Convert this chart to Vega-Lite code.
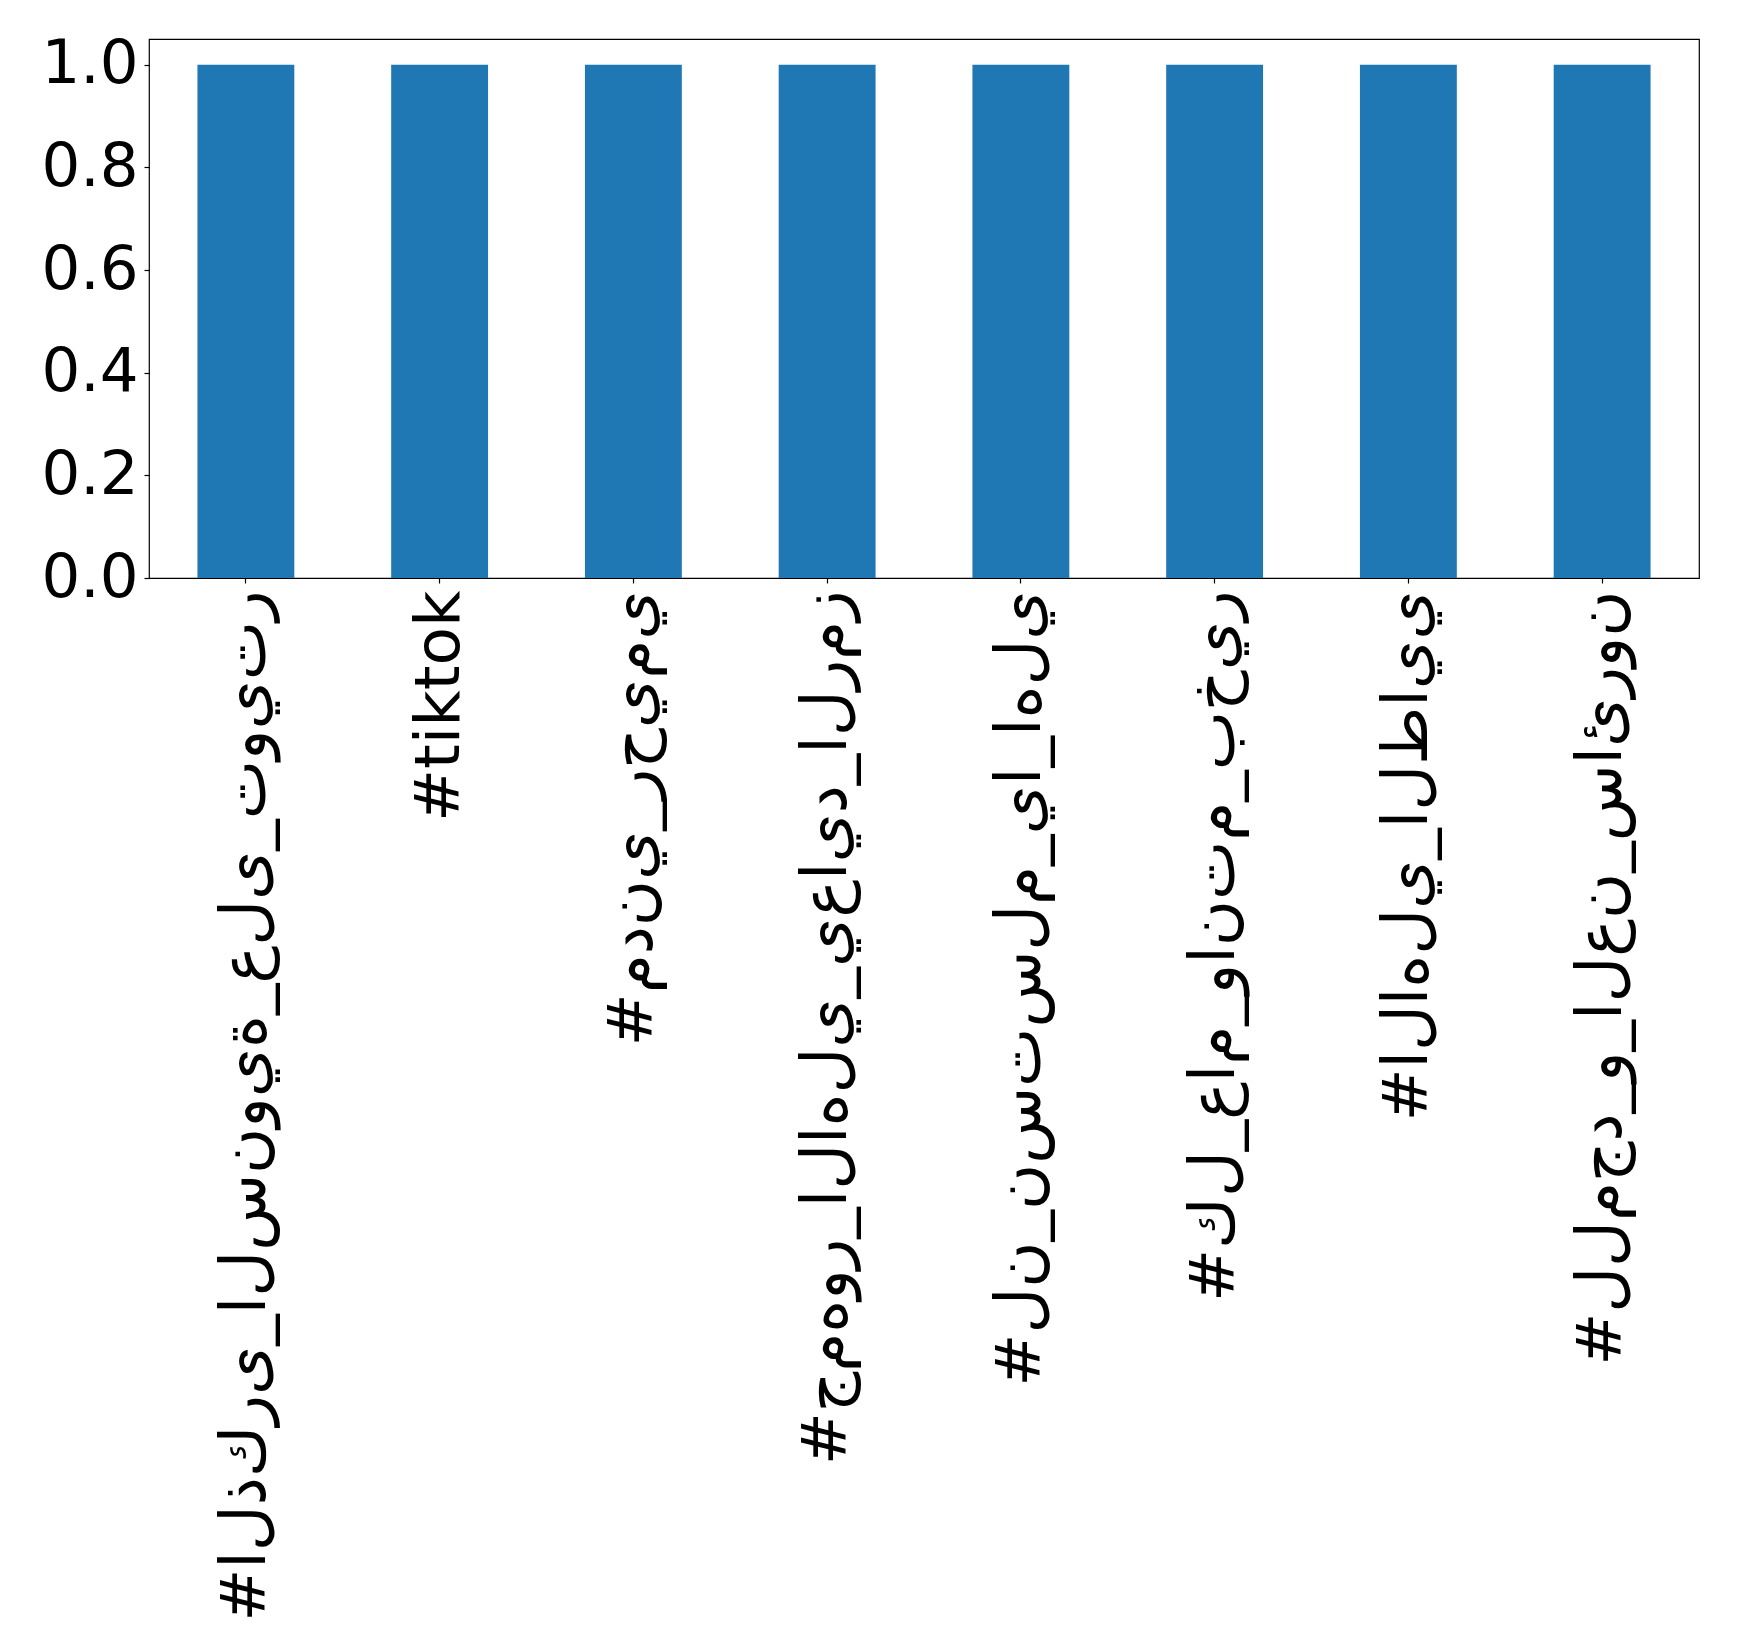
{
  "$schema": "https://vega.github.io/schema/vega-lite/v6.json",
  "width": 1550,
  "height": 539,
  "autosize": "none",
  "padding": {"left": 149, "top": 39, "right": 40, "bottom": 1073},
  "background": "white",
  "config": {
    "view": {"stroke": "black", "strokeWidth": 1.2},
    "font": "DejaVu Sans"
  },
  "data": {
    "values": [
      {"hashtag": "#الذكرى_السنوية_على_تويتر", "count": 1},
      {"hashtag": "#tiktok", "count": 1},
      {"hashtag": "#مدني_رحيمي", "count": 1},
      {"hashtag": "#جمهور_الاهلي_يعايد_الرمز", "count": 1},
      {"hashtag": "#لن_نستسلم_يا_اهلي", "count": 1},
      {"hashtag": "#كل_عام_وانتم_بخير", "count": 1},
      {"hashtag": "#الاهلي_الطايي", "count": 1},
      {"hashtag": "#للمجد_و_العن_سائرون", "count": 1}
    ]
  },
  "mark": {"type": "bar", "color": "#1f77b4"},
  "encoding": {
    "x": {
      "field": "hashtag",
      "type": "nominal",
      "sort": null,
      "scale": {"paddingInner": 0.5, "paddingOuter": 0.25},
      "axis": {
        "title": null,
        "labelAngle": -90,
        "labelFontSize": 63,
        "labelFont": "DejaVu Sans",
        "labelColor": "black",
        "tickColor": "black",
        "tickSize": 5,
        "tickWidth": 1.2,
        "labelPadding": 7,
        "domain": false,
        "labelLimit": 0,
        "labelOverlap": false,
        "labelExpr": "'\u202d' + replace(datum.label, regexp('(.)', 'g'), '$1\u200c')"
      }
    },
    "y": {
      "field": "count",
      "type": "quantitative",
      "scale": {"domain": [0, 1.05], "nice": false},
      "axis": {
        "title": null,
        "values": [0, 0.2, 0.4, 0.6, 0.8, 1.0],
        "format": ".1f",
        "grid": false,
        "domain": false,
        "labelFontSize": 61,
        "labelFont": "DejaVu Sans",
        "labelColor": "black",
        "tickColor": "black",
        "tickSize": 5,
        "tickWidth": 1.2,
        "labelPadding": 6,
        "labelFlush": false,
        "labelOverlap": false
      }
    }
  }
}
